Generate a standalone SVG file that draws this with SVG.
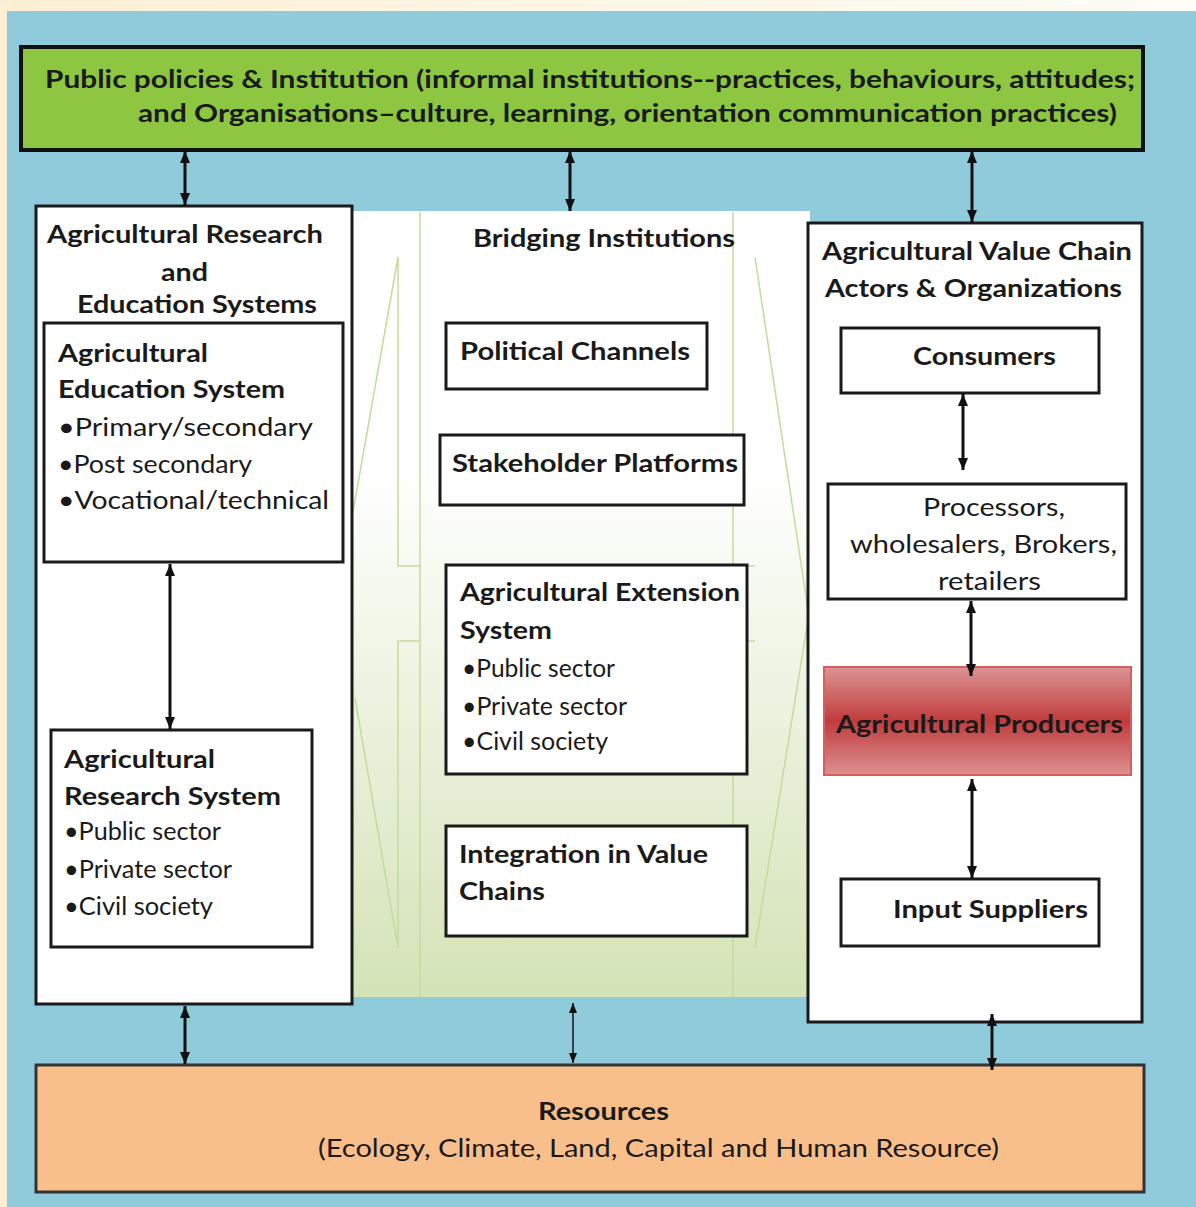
<svg xmlns="http://www.w3.org/2000/svg" width="1196" height="1207" viewBox="0 0 1196 1207">
<style>
.t{font-family:Lato,"Open Sans","Liberation Sans",sans-serif;font-size:25px;fill:#1a1a1a}
.b{font-weight:700}
.box{fill:#fff;stroke:#1a1a1a;stroke-width:3}
.deco{fill:none;stroke:#c3dc9a;stroke-width:1.5}
.conn line{stroke:#111;stroke-width:3;marker-start:url(#ah);marker-end:url(#ah)}
.conn line.thin{stroke-width:1.5;marker-start:url(#ahs);marker-end:url(#ahs)}
</style>
<defs>
<marker id="ah" viewBox="0 0 12 10" refX="12" refY="5" markerWidth="12" markerHeight="10" markerUnits="userSpaceOnUse" orient="auto-start-reverse"><path d="M0,0 L12,5 L0,10 z" fill="#111"/></marker>
<marker id="ahs" viewBox="0 0 10 8" refX="10" refY="4" markerWidth="10" markerHeight="8" markerUnits="userSpaceOnUse" orient="auto-start-reverse"><path d="M0,0 L10,4 L0,8 z" fill="#111"/></marker>
<linearGradient id="cream" x1="0" y1="0" x2="1" y2="0"><stop offset="0" stop-color="#fdefd4"/><stop offset="1" stop-color="#fffdf8"/></linearGradient>
<linearGradient id="mid" x1="0" y1="0" x2="0" y2="1"><stop offset="0" stop-color="#ffffff"/><stop offset="0.33" stop-color="#ffffff"/><stop offset="1" stop-color="#d4e3b7"/></linearGradient>
<linearGradient id="red" x1="0" y1="0" x2="0" y2="1"><stop offset="0" stop-color="#dc9494"/><stop offset="0.5" stop-color="#c13c3c"/><stop offset="1" stop-color="#dc9191"/></linearGradient>
</defs>
<rect x="0" y="0" width="1196" height="1207" fill="url(#cream)"/>
<rect x="7" y="11" width="1189" height="1196" fill="#8fcbdb"/>
<g id="bridging-bg">
<rect x="352" y="211" width="458" height="786" fill="url(#mid)"/>
<path class="deco" d="M420,212 V997 M398,257 V566 H420 M398,257 L353,512 M420,641 H398 V948 L355,698 M733,212 V997 M733,566 H755 M755,257 L808,610 M733,641 H755 M755,948 L808,620"/>
</g>
<g id="policies">
<rect x="21" y="47" width="1122" height="103" fill="#8dc641" stroke="#111" stroke-width="4"/>
<text class="t b" x="45" y="88" textLength="1090" lengthAdjust="spacingAndGlyphs">Public policies &amp; Institution (informal institutions--practices, behaviours, attitudes;</text>
<text class="t b" x="138" y="122" textLength="979" lengthAdjust="spacingAndGlyphs">and Organisations–culture, learning, orientation communication practices)</text>
</g>
<g id="research-education">
<rect class="box" x="36" y="206" width="316" height="798" stroke-width="2.5"/>
<text class="t b" x="47" y="243" textLength="276" lengthAdjust="spacingAndGlyphs">Agricultural Research</text>
<text class="t b" x="161" y="281" textLength="47" lengthAdjust="spacingAndGlyphs">and</text>
<text class="t b" x="77" y="313" textLength="240" lengthAdjust="spacingAndGlyphs">Education Systems</text>
</g>
<g id="education-system">
<rect class="box" x="44" y="323" width="299" height="239" stroke-width="3.5"/>
<text class="t b" x="58" y="362" textLength="150" lengthAdjust="spacingAndGlyphs">Agricultural</text>
<text class="t b" x="58" y="398" textLength="227" lengthAdjust="spacingAndGlyphs">Education System</text>
<text class="t" x="58" y="436" textLength="255" lengthAdjust="spacingAndGlyphs">•Primary/secondary</text>
<text class="t" x="58" y="473" textLength="194" lengthAdjust="spacingAndGlyphs">•Post secondary</text>
<text class="t" x="58" y="509" textLength="271" lengthAdjust="spacingAndGlyphs">•Vocational/technical</text>
</g>
<g id="research-system">
<rect class="box" x="51" y="730" width="261" height="217" stroke-width="2.5"/>
<text class="t b" x="64" y="768" textLength="151" lengthAdjust="spacingAndGlyphs">Agricultural</text>
<text class="t b" x="64" y="805" textLength="217" lengthAdjust="spacingAndGlyphs">Research System</text>
<text class="t" x="64" y="840" textLength="157" lengthAdjust="spacingAndGlyphs">•Public sector</text>
<text class="t" x="64" y="878" textLength="168" lengthAdjust="spacingAndGlyphs">•Private sector</text>
<text class="t" x="64" y="915" textLength="149" lengthAdjust="spacingAndGlyphs">•Civil society</text>
</g>
<g id="bridging-institutions">
<text class="t b" x="473" y="247" textLength="262" lengthAdjust="spacingAndGlyphs">Bridging Institutions</text>
</g>
<g id="political-channels">
<rect class="box" x="446" y="323" width="261" height="66" stroke-width="2.5"/>
<text class="t b" x="460" y="360" textLength="230" lengthAdjust="spacingAndGlyphs">Political Channels</text>
</g>
<g id="stakeholder-platforms">
<rect class="box" x="440" y="435" width="304" height="70" stroke-width="2.5"/>
<text class="t b" x="452" y="472" textLength="286" lengthAdjust="spacingAndGlyphs">Stakeholder Platforms</text>
</g>
<g id="extension-system">
<rect class="box" x="446" y="565" width="301" height="209" stroke-width="2.5"/>
<text class="t b" x="460" y="601" textLength="280" lengthAdjust="spacingAndGlyphs">Agricultural Extension</text>
<text class="t b" x="460" y="639" textLength="92" lengthAdjust="spacingAndGlyphs">System</text>
<text class="t" x="462" y="677" textLength="153" lengthAdjust="spacingAndGlyphs">•Public sector</text>
<text class="t" x="462" y="715" textLength="165" lengthAdjust="spacingAndGlyphs">•Private sector</text>
<text class="t" x="462" y="750" textLength="146" lengthAdjust="spacingAndGlyphs">•Civil society</text>
</g>
<g id="integration">
<rect class="box" x="446" y="826" width="301" height="110" stroke-width="2.5"/>
<text class="t b" x="459" y="863" textLength="249" lengthAdjust="spacingAndGlyphs">Integration in  Value</text>
<text class="t b" x="459" y="900" textLength="86" lengthAdjust="spacingAndGlyphs">Chains</text>
</g>
<g id="value-chain">
<rect class="box" x="808" y="223" width="334" height="799" stroke-width="2.5"/>
<text class="t b" x="822" y="260" textLength="310" lengthAdjust="spacingAndGlyphs">Agricultural Value Chain</text>
<text class="t b" x="825" y="297" textLength="297" lengthAdjust="spacingAndGlyphs">Actors &amp; Organizations</text>
</g>
<g id="consumers">
<rect class="box" x="841" y="328" width="258" height="65" stroke-width="2.5"/>
<text class="t b" x="913" y="365" textLength="143" lengthAdjust="spacingAndGlyphs">Consumers</text>
</g>
<g id="processors">
<rect class="box" x="828" y="484" width="298" height="115" stroke-width="4"/>
<text class="t" x="923" y="516" textLength="142" lengthAdjust="spacingAndGlyphs">Processors,</text>
<text class="t" x="850" y="553" textLength="267" lengthAdjust="spacingAndGlyphs">wholesalers, Brokers,</text>
<text class="t" x="938" y="590" textLength="103" lengthAdjust="spacingAndGlyphs">retailers</text>
</g>
<g id="producers">
<rect x="824" y="667" width="307" height="108" fill="url(#red)" stroke="#d3605e" stroke-width="2"/>
<text class="t b" x="836" y="733" textLength="287" lengthAdjust="spacingAndGlyphs">Agricultural Producers</text>
</g>
<g id="input-suppliers">
<rect class="box" x="841" y="879" width="258" height="67" stroke-width="2.5"/>
<text class="t b" x="893" y="918" textLength="195" lengthAdjust="spacingAndGlyphs">Input Suppliers</text>
</g>
<g id="resources">
<rect x="36" y="1065" width="1108" height="127" fill="#f9bf8b" stroke="#333" stroke-width="3"/>
<text class="t b" x="538" y="1120" textLength="131" lengthAdjust="spacingAndGlyphs">Resources</text>
<text class="t" x="318" y="1157" textLength="681" lengthAdjust="spacingAndGlyphs">(Ecology, Climate, Land, Capital and Human Resource)</text>
</g>
<g id="connectors" class="conn">
<line x1="185" y1="151" x2="185" y2="205"/>
<line x1="570" y1="151" x2="570" y2="211"/>
<line x1="972" y1="151" x2="972" y2="222"/>
<line x1="170" y1="564" x2="170" y2="729"/>
<line x1="963" y1="394" x2="963" y2="470"/>
<line x1="971" y1="601" x2="971" y2="676"/>
<line x1="972" y1="779" x2="972" y2="878"/>
<line x1="992" y1="1014" x2="992" y2="1070"/>
<line x1="185" y1="1006" x2="185" y2="1064"/>
<line class="thin" x1="573" y1="1003" x2="573" y2="1063"/>
</g>
</svg>
